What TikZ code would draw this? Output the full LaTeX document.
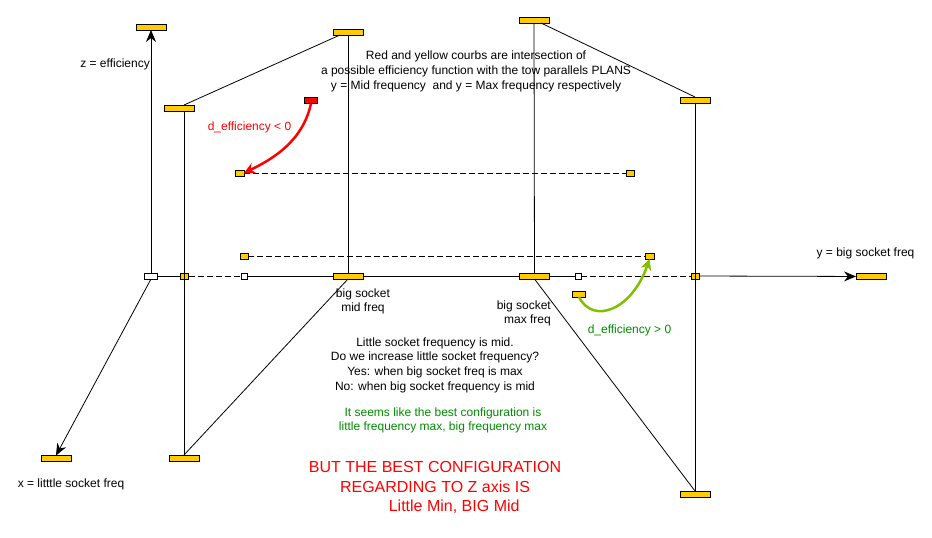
\documentclass[tikz,border=0pt]{standalone}
\usepackage{fontspec}
\setmainfont{Liberation Sans}
\usetikzlibrary{arrows.meta, positioning, calc}
\definecolor{barfill}{RGB}{255,204,0}
\definecolor{curvegreen}{RGB}{128,192,0}
\definecolor{notegreen}{RGB}{0,140,0}

\begin{document}
\begin{tikzpicture}[
  x=1pt, y=-1pt,
  bar/.style={rectangle, draw=black, fill=barfill, line width=0.8pt,
              minimum width=30pt, minimum height=6pt, inner sep=0pt, outer sep=0pt},
  smallbar/.style={bar, minimum width=8pt},
  hole/.style={bar, fill=white, minimum width=6pt},
  lbl/.style={font=\fontsize{12}{14.7}\selectfont, align=center, inner sep=0pt},
  big/.style={font=\fontsize{16}{19.5}\selectfont, align=center, inner sep=0pt, text=red},
  ln/.style={line width=0.8pt},
  dln/.style={line width=0.8pt, dash pattern=on 6pt off 3pt},
  arr/.style={ln, -{Stealth[length=12pt, width=10pt, inset=4pt]}},
  curvearr/.style={line width=2.5pt, -{Stealth[length=11pt, width=11pt, inset=3.5pt]}},
]
\useasboundingbox (0,0) rectangle (932,538);

% axes
\node[hole, minimum width=13pt] (origin) at (151,276) {};
\node[bar] (ztop) at (151,27) {};
\node[bar] (xend) at (56,458.5) {};
\node[bar] (yend) at (871,276.5) {};
\node[lbl, anchor=east] (zlbl) at (150,64) {z = efficiency};
\node[lbl] (xlbl) at (71,484) {x = litttle socket freq};
\node[lbl] (ylbl) at (865.5,253) {y = big socket freq};

% plane y = mid frequency
\node[bar] (mtl)  at (179,108) {};
\node[bar] (mtop) at (348,32) {};
\node[bar] (mmid) at (348,276) {};
\node[bar] (mbot) at (184,458) {};
\node[smallbar] (mx) at (184.5,276) {};
\node[hole] (w1) at (244,276) {};

% plane y = max frequency
\node[bar] (xtop) at (534,20) {};
\node[bar] (xtr)  at (695,100) {};
\node[bar] (xmid) at (534.5,276) {};
\node[bar] (xbot) at (695,494) {};
\node[smallbar] (xx) at (695.5,276) {};
\node[hole] (w2) at (578,276) {};

% courbs
\node[smallbar, minimum width=9pt] (lo1) at (239.5,173) {};
\node[smallbar] (lo2) at (630,173) {};
\node[smallbar] (hi1) at (244,256) {};
\node[smallbar, minimum width=9pt] (hi2) at (649.5,256) {};
\node[bar, fill=red, minimum width=13pt] (redsrc) at (311,100.5) {};
\node[bar, minimum width=13pt] (grnsrc) at (579,294) {};

\draw[arr] (origin) -- (ztop);
\draw[arr] (origin.south) -- (xend.north);
\draw[ln] (origin) -- (mx);
\draw[dln] (mx) -- (w1);
\draw[ln] (w1) -- (mmid);
\draw[ln] (mmid) -- (xmid);
\draw[ln] (xmid) -- (w2);
\draw[dln] (w2) -- (xx);
\draw[arr] (xx) -- (yend);

\draw[ln] (mbot.north) -- (mbot.north |- mtl.south);
\draw[ln] (mtl.north -| mbot.north) -- ($(mtop.south)+(-8,0)$);
\draw[ln] (mtop) -- (mmid);
\draw[ln] (mmid.south) -- (mbot.north);

\draw[ln] (xtop) -- (xmid);
\draw[ln] ($(xtop.south)+(7,0)$) -- (xtr.north);
\draw[ln] (xtr.south) -- (xbot.north);
\draw[ln] (xmid.south) -- (xbot.north);

\draw[dln] (lo1.east) -- (lo2.west);
\draw[dln] (hi1.east) -- (hi2.west);

\draw[curvearr, red] (redsrc.south) .. controls (303,140) and (275,158) .. (lo1.east);
\draw[curvearr, curvegreen] (grnsrc.south) .. controls (593,325) and (632,310) .. (hi2.south);

% texts
\node[lbl] (plans) at (476,71.5) {Red and yellow courbs are intersection of\\
  a possible efficiency function with the tow parallels PLANS\\
  y = Mid frequency\ \ and y = Max frequency respectively};
\node[lbl] (midlbl) at (363,301.5) {big socket\\mid freq};
\node[lbl, align=right, anchor=east] (maxlbl) at (551,313.5) {big socket\\max freq};
\node[lbl, text=red] (dneg) at (249.5,127) {d\_efficiency < 0};
\node[lbl, text=notegreen] (dpos) at (629.5,330) {d\_efficiency > 0};
\node[lbl] (question) at (435,365) {Little socket frequency is mid.\\
  Do we increase little socket frequency?\\
  Yes: when big socket freq is max\\
  No: when big socket frequency is mid};
\node[lbl, text=notegreen] (seems) at (443,420.5) {It seems like the best configuration is\\
  little frequency max, big frequency max};
\node[big] (best) at (435,487.5) {BUT THE BEST CONFIGURATION\\
  REGARDING TO Z axis IS\\
  \hspace*{2.4em}Little Min, BIG Mid};
\end{tikzpicture}
\end{document}
